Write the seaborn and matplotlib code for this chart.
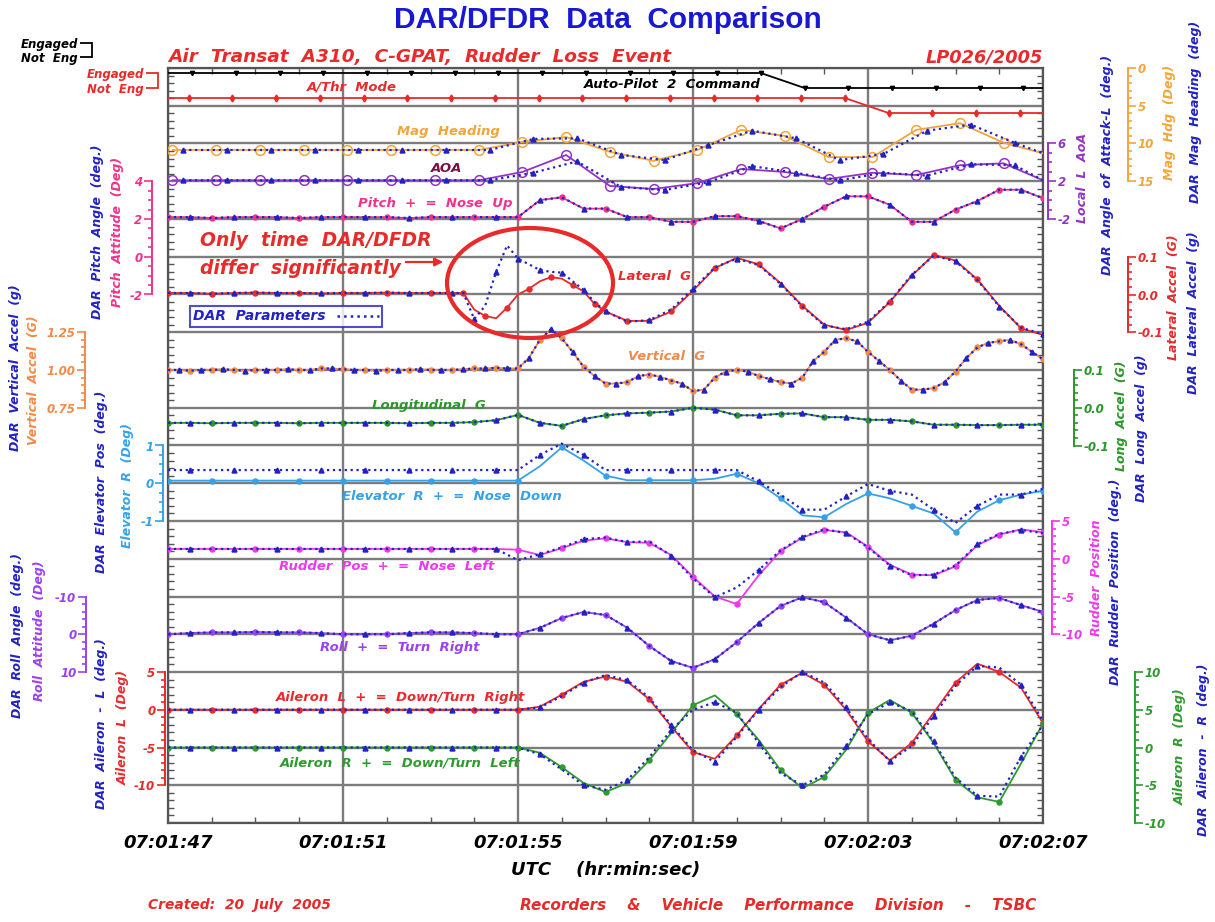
import numpy as np
import matplotlib
matplotlib.use("Agg")
import matplotlib.pyplot as plt
from matplotlib.ticker import FixedLocator, MultipleLocator
from matplotlib.patches import Ellipse
from matplotlib.lines import Line2D
import seaborn as sns

sns.set_theme(style="white")
plt.rcParams["font.family"] = ["DejaVu Sans"]
plt.rcParams["font.style"] = "italic"
plt.rcParams["font.weight"] = "bold"
plt.rcParams["axes.unicode_minus"] = False

# ---------------------------------------------------------------- data
TIME_LABELS = ["07:01:47", "07:01:51", "07:01:55", "07:01:59", "07:02:03", "07:02:07"]
TIME_TICKS = [0, 4, 8, 12, 16, 20]          # seconds after 07:01:47

t_half = np.arange(0, 20.01, 0.5)           # 2 Hz parameters
t_quarter = np.arange(0, 20.01, 0.25)       # vertical G
t_lat = np.concatenate([np.arange(0, 6.5, 0.5), np.arange(6.5, 10.0, 0.25),
                        np.arange(10.0, 20.01, 0.5)])
t_1hz = np.append(np.arange(0.1, 19.2, 1.0), 20.0)        # heading / AOA (DFDR)
t_1hz_dar = np.append(np.arange(0.35, 19.4, 1.0), 20.0)   # heading / AOA (DAR)

# auto-pilot / auto-thrust states (1 = Engaged, 0 = Not Eng)
t_ap = np.concatenate([[0], np.arange(0.55, 19.6, 1.0), [20]])
ap_state = [1] * 15 + [0] * 7
t_athr = np.concatenate([[0], np.arange(0.47, 19.5, 1.0), [20]])
athr_state = [1] * 17 + [0] * 5

hdg_dfdr = [10.86, 10.86, 10.86, 10.86, 10.86, 10.86, 10.86, 10.86,
            9.8, 9.14, 11.1, 12.3, 10.86, 8.2, 9.0, 11.8, 11.8, 8.2, 7.3, 9.9, 11.3]
hdg_dar = [10.86, 10.86, 10.86, 10.86, 10.86, 10.86, 10.86, 10.86,
           9.4, 9.3, 11.5, 12.2, 10.2, 8.3, 9.3, 12.2, 11.4, 8.3, 7.5, 9.9, 11.3]

aoa_dfdr = [2.1, 2.1, 2.1, 2.1, 2.1, 2.1, 2.1, 2.1,
            2.98, 4.78, 1.5, 1.18, 1.8, 3.3, 2.98, 2.24, 2.9, 2.66, 3.7, 3.9, 2.1]
aoa_dar = [2.1, 2.1, 2.1, 2.1, 2.1, 2.1, 2.1, 2.1,
           2.9, 4.1, 1.4, 1.06, 1.9, 3.6, 2.9, 2.1, 2.9, 2.6, 3.8, 3.7, 2.1]

pitch = [2.1, 2.1, 2.05, 2.1, 2.1, 2.1, 2.05, 2.1, 2.1, 2.1, 2.1, 2.05, 2.1, 2.1, 2.1, 2.1,
         2.1, 3.0, 3.15, 2.55, 2.55, 2.1, 2.1, 1.85, 1.85, 2.15, 2.15, 1.9, 1.5, 2.0,
         2.65, 3.2, 3.2, 2.75, 1.85, 1.85, 2.5, 2.95, 3.55, 3.55, 3.1]

lat_dfdr = [0.004, 0.004, 0.002, 0.004, 0.005, 0.004, 0.004, 0.003, 0.004, 0.004, 0.005, 0.004, 0.004,
            0.004, 0.004, -0.04, -0.057, -0.063, -0.035, 0.0, 0.015, 0.035, 0.046, 0.042, 0.025,
            0.008, -0.025,
            -0.045, -0.07, -0.07, -0.045, 0.01, 0.07, 0.097, 0.08, 0.03, -0.03, -0.08, -0.094,
            -0.075, -0.02, 0.05, 0.105, 0.09, 0.04, -0.03, -0.09, -0.107]
lat_dar = [0.004, 0.004, 0.002, 0.004, 0.005, 0.004, 0.004, 0.003, 0.004, 0.004, 0.005, 0.004, 0.004,
           0.004, 0.004, -0.065, -0.03, 0.06, 0.13, 0.095, 0.08, 0.065, 0.06, 0.058, 0.035,
           0.012, -0.02,
           -0.045, -0.072, -0.068, -0.04, 0.015, 0.072, 0.095, 0.078, 0.028, -0.032, -0.082, -0.092,
           -0.072, -0.018, 0.052, 0.103, 0.088, 0.038, -0.032, -0.088, -0.105]

vert_g = [1.0, 1.0, 0.995, 1.0, 1.0, 1.005, 1.0, 0.995, 1.0, 1.0, 1.0, 1.005, 1.0, 1.0, 1.01, 1.01,
          1.005, 1.0, 1.0, 0.995, 1.0, 1.0, 1.0, 1.005, 1.0, 1.0, 1.0, 1.005, 1.01, 1.01, 1.015, 1.01,
          1.01, 1.08, 1.2, 1.27, 1.21, 1.12, 1.02, 0.96, 0.91, 0.91, 0.92, 0.96, 0.97, 0.955,
          0.93, 0.91, 0.86, 0.87, 0.95, 0.99, 1.0, 0.99, 0.96, 0.94, 0.92, 0.91, 0.95, 1.06,
          1.12, 1.2, 1.21, 1.19, 1.12, 1.06, 1.0, 0.93, 0.87, 0.87, 0.88, 0.92, 0.99, 1.08,
          1.15, 1.18, 1.19, 1.2, 1.17, 1.12, 1.07]

long_g = [-0.04, -0.04, -0.041, -0.04, -0.04, -0.04, -0.041, -0.04, -0.04, -0.04, -0.04, -0.041,
          -0.04, -0.04, -0.038, -0.033,
          -0.019, -0.04, -0.048, -0.03, -0.02, -0.015, -0.013, -0.01, 0.0, -0.005, -0.02, -0.02,
          -0.016, -0.015, -0.025, -0.025, -0.032, -0.032, -0.036, -0.045, -0.045, -0.046, -0.046,
          -0.045, -0.045]

elev_dfdr = [0.07, 0.07, 0.07, 0.07, 0.07, 0.07, 0.07, 0.07, 0.07, 0.07, 0.07, 0.07, 0.07, 0.07, 0.07, 0.07,
             0.07, 0.45, 0.95, 0.6, 0.2, 0.08, 0.08, 0.08, 0.08, 0.12, 0.25, 0.0, -0.4, -0.85, -0.9,
             -0.55, -0.27, -0.4, -0.6, -0.8, -1.3, -0.75, -0.45, -0.3, -0.2]
elev_dar = [0.35, 0.35, 0.35, 0.35, 0.35, 0.35, 0.35, 0.35, 0.35, 0.35, 0.35, 0.35, 0.35, 0.35, 0.35, 0.35,
            0.35, 0.75, 1.05, 0.75, 0.35, 0.35, 0.35, 0.35, 0.35, 0.35, 0.35, 0.05, -0.3, -0.7, -0.7,
            -0.35, -0.02, -0.2, -0.3, -0.7, -1.05, -0.6, -0.3, -0.3, -0.15]

rud_dfdr = [1.3, 1.3, 1.3, 1.3, 1.3, 1.3, 1.3, 1.3, 1.3, 1.3, 1.3, 1.3, 1.3, 1.3, 1.3, 1.3,
            1.2, 0.5, 1.4, 2.4, 2.7, 2.2, 2.1, 0.5, -2.4, -5.0, -6.0, -2.2, 1.0, 2.8, 3.8,
            3.5, 1.6, -0.8, -2.1, -2.2, -1.0, 1.8, 3.2, 3.9, 3.5]
rud_dar = [1.3, 1.3, 1.3, 1.3, 1.3, 1.3, 1.3, 1.3, 1.3, 1.3, 1.3, 1.3, 1.3, 1.3, 1.3, 1.3,
           -0.2, 0.6, 1.5, 2.6, 2.8, 2.2, 2.3, 0.4, -2.6, -5.1, -3.8, -1.5, 1.1, 2.9, 3.9,
           3.4, 1.5, -0.9, -2.2, -2.1, -0.9, 1.9, 3.3, 3.8, 3.4]

roll = [0.0, -0.3, -0.5, -0.5, -0.6, -0.5, -0.5, -0.3, 0.0, 0.0, 0.0, -0.3, -0.5, -0.5, -0.3, 0.0,
        0.0, -1.7, -4.3, -5.9, -5.1, -1.7, 3.1, 7.1, 8.9, 6.6, 2.1, -3.0, -7.5, -9.8, -8.5,
        -4.4, 0.0, 1.6, 0.4, -2.8, -6.4, -9.1, -9.6, -7.7, -5.9]

ail_l_dfdr = [0.0, 0.0, 0.0, 0.0, 0.0, 0.0, 0.0, 0.0, 0.0, 0.0, 0.0, 0.0, 0.0, 0.0, 0.0, 0.0,
              0.0, 0.4, 2.0, 3.7, 4.4, 3.7, 1.4, -2.2, -5.6, -6.5, -3.4, 0.1, 3.3, 4.9, 3.3,
              0.0, -4.2, -6.7, -4.4, -0.4, 3.6, 6.1, 5.0, 2.9, -1.8]
ail_l_dar = [0.0, 0.0, 0.0, 0.0, 0.0, 0.0, 0.0, 0.0, 0.0, 0.0, 0.0, 0.0, 0.0, 0.0, 0.0, 0.0,
             0.0, 0.3, 1.8, 3.6, 4.6, 3.9, 1.6, -2.0, -5.4, -6.9, -3.6, 0.0, 3.0, 5.0, 3.6,
             0.3, -3.9, -6.8, -4.8, -0.8, 3.2, 5.8, 5.6, 3.3, -1.5]

ail_r_dfdr = [0.0, 0.0, 0.0, 0.0, 0.0, 0.0, 0.0, 0.0, 0.0, 0.0, 0.0, 0.0, 0.0, 0.0, 0.0, 0.0,
              0.0, -0.7, -2.6, -4.7, -5.9, -4.7, -1.7, 1.9, 5.6, 6.9, 4.4, 1.0, -3.0, -5.4, -3.9,
              -0.3, 4.6, 6.3, 4.6, 0.6, -4.3, -6.6, -7.2, -2.1, 3.2]
ail_r_dar = [0.0, 0.0, 0.0, 0.0, 0.0, 0.0, 0.0, 0.0, 0.0, 0.0, 0.0, 0.0, 0.0, 0.0, 0.0, 0.0,
             0.0, -0.9, -2.9, -5.0, -5.6, -4.3, -1.3, 2.3, 5.0, 6.0, 4.6, 0.6, -3.4, -5.0, -3.6,
             0.2, 4.4, 6.0, 4.8, 0.8, -4.0, -6.4, -6.5, -1.2, 3.0]

# ---------------------------------------------------------------- colours
DAR = "#2222c4"
RED = "#e82a2a"
HDG = "#f2a53a"
AOA = "#9434c4"
PITCH = "#f2328a"
VERT = "#f28a4a"
LONG = "#2a962a"
ELEV = "#35a2e8"
RUD = "#ee38ee"
ROLL = "#9a42f2"
GREEN = "#2f9a2f"

# ---------------------------------------------------------------- layout (pixels)
W, H, DPI = 1215, 922, 100
L, R, T, B = 168, 1043, 68, 823
RECT = [L / W, 1 - B / H, (R - L) / W, (B - T) / H]

fig = plt.figure(figsize=(W / DPI, H / DPI), dpi=DPI)
fig.patch.set_facecolor("white")


def ftext(x, y, s, color, size=9.5, rot=0, ha="center", **kw):
    fig.text(x / W, 1 - y / H, s, color=color, fontsize=size, rotation=rot,
             ha=ha, va="center", **kw)


# grid frame
base = fig.add_axes(RECT)
base.set_xlim(0, 20)
base.set_ylim(0, 20)
base.set_xticks(TIME_TICKS, TIME_LABELS)
base.xaxis.set_minor_locator(MultipleLocator(1))
base.yaxis.set_major_locator(MultipleLocator(1))
base.yaxis.set_minor_locator(MultipleLocator(0.2))
base.grid(True, which="major", color="#7c7c7c", lw=1.7)
base.tick_params(which="both", direction="in", bottom=True, top=True, left=True, right=True,
                 labelleft=False, color="#555555")
base.tick_params(which="major", length=0, pad=8, labelsize=13, labelcolor="black")
base.tick_params(which="minor", length=4, width=1)
for sp in base.spines.values():
    sp.set_color("#555555")
    sp.set_linewidth(1.6)


def track(v_a, y_a, v_b, y_b):
    """Transparent axes over the plot area whose y scale puts v_a at pixel y_a, v_b at y_b."""
    ax = fig.add_axes(RECT, facecolor="none")
    per_px = (v_b - v_a) / (y_b - y_a)
    ax.set_xlim(0, 20)
    ax.set_ylim(v_a + (B - y_a) * per_px, v_a + (T - y_a) * per_px)
    ax.xaxis.set_visible(False)
    for sp in ax.spines.values():
        sp.set_visible(False)
    ax.tick_params(axis="y", left=False, right=False, labelleft=False, labelright=False)
    return ax


def bracket(ax, side, x_px, ticks, labels, step, color):
    sp = ax.spines[side]
    sp.set_visible(True)
    sp.set_color(color)
    sp.set_linewidth(1.4)
    gap = (L - x_px) if side == "left" else (x_px - R)
    sp.set_position(("outward", gap * 72 / DPI))
    lo, hi = min(ticks), max(ticks)
    sp.set_bounds(lo, hi)
    ax.yaxis.set_ticks_position(side)
    ax.set_yticks(ticks, labels)
    ax.yaxis.set_minor_locator(FixedLocator(np.arange(lo, hi + 1e-9, step)))
    ax.tick_params(axis="y", which="both", direction="out", color=color, labelcolor=color,
                   labelsize=8.5, width=1.2, pad=1, **{side: True, "label" + side: True})
    ax.tick_params(axis="y", which="major", length=6)
    ax.tick_params(axis="y", which="minor", length=3.2)


def line(ax, t, v, color, ls="-", lw=1.3, mk="o", ms=3.5, open_mk=False, every=None, z=3):
    sns.lineplot(x=t, y=v, ax=ax, color=color, linestyle=ls, linewidth=lw, marker=mk,
                 markersize=ms, markerfacecolor="none" if open_mk else color,
                 markeredgecolor=color, markeredgewidth=1.1, markevery=every,
                 errorbar=None, legend=False, zorder=z)


def pair(ax, t, dfdr, dar, color, t_dar=None, ms=3.5, open_mk=False):
    if t_dar is None:
        line(ax, t, dfdr, color, ms=ms, every=(0, 2))
        line(ax, t, dar, DAR, ls=":", lw=1.6, mk="^", ms=3.5, every=(1, 2), z=4)
    else:
        line(ax, t, dfdr, color, ms=ms, open_mk=open_mk, every=list(range(len(t) - 1)))
        line(ax, t_dar, dar, DAR, ls=":", lw=1.6, mk="^", ms=3.5,
             every=list(range(len(t_dar) - 1)), z=4)


# ---------------------------------------------------------------- traces
ap_ax = track(1, 73, 0, 88)
line(ap_ax, t_ap, ap_state, "black", lw=1.3, mk="v", ms=3, every=list(range(1, 21)))

athr_ax = track(1, 98, 0, 113)
line(athr_ax, t_athr, athr_state, RED, lw=1.3, mk="d", ms=3.5, every=list(range(1, 21)))

hdg_ax = track(0, 68, 15, 181.25)
pair(hdg_ax, t_1hz, hdg_dfdr, hdg_dar, HDG, t_dar=t_1hz_dar, ms=7, open_mk=True)
bracket(hdg_ax, "right", 1128, [0, 5, 10, 15], ["0", "5", "10", "15"], 1, HDG)

aoa_ax = track(6, 143.5, -2, 219)
pair(aoa_ax, t_1hz, aoa_dfdr, aoa_dar, AOA, t_dar=t_1hz_dar, ms=7, open_mk=True)
bracket(aoa_ax, "right", 1048, [6, 2, -2], ["6", "2", "-2"], 1, AOA)

pitch_ax = track(4, 181.25, -2, 294.5)
pair(pitch_ax, t_half, pitch, pitch, PITCH)
bracket(pitch_ax, "left", 152, [4, 2, 0, -2], ["4", "2", "0", "-2"], 0.5, PITCH)

lat_ax = track(0.1, 256.75, -0.1, 332.25)
pair(lat_ax, t_lat, lat_dfdr, lat_dar, RED)
bracket(lat_ax, "right", 1128, [0.1, 0.0, -0.1], ["0.1", "0.0", "-0.1"], 0.02, RED)

vert_ax = track(1.25, 332.25, 0.75, 407.75)
pair(vert_ax, t_quarter, vert_g, vert_g, VERT)
bracket(vert_ax, "left", 85, [1.25, 1.0, 0.75], ["1.25", "1.00", "0.75"], 0.05, VERT)

long_ax = track(0.1, 370, -0.1, 445.5)
pair(long_ax, t_half, long_g, long_g, LONG)
bracket(long_ax, "right", 1074, [0.1, 0.0, -0.1], ["0.1", "0.0", "-0.1"], 0.02, LONG)

elev_ax = track(1, 445.5, -1, 521)
pair(elev_ax, t_half, elev_dfdr, elev_dar, ELEV)
bracket(elev_ax, "left", 163, [1, 0, -1], ["1", "0", "-1"], 0.25, ELEV)

rud_ax = track(5, 521, -10, 634.25)
pair(rud_ax, t_half, rud_dfdr, rud_dar, RUD)
bracket(rud_ax, "right", 1052, [5, 0, -5, -10], ["5", "0", "-5", "-10"], 1, RUD)

roll_ax = track(-10, 596.5, 10, 672)
pair(roll_ax, t_half, roll, roll, ROLL)
bracket(roll_ax, "left", 86, [-10, 0, 10], ["-10", "0", "10"], 2, ROLL)

ail_l_ax = track(5, 672, -10, 785.25)
pair(ail_l_ax, t_half, ail_l_dfdr, ail_l_dar, RED)
bracket(ail_l_ax, "left", 165, [5, 0, -5, -10], ["5", "0", "-5", "-10"], 1, RED)

ail_r_ax = track(10, 672, -10, 823)
pair(ail_r_ax, t_half, ail_r_dfdr, ail_r_dar, GREEN)
bracket(ail_r_ax, "right", 1135, [10, 5, 0, -5, -10], ["10", "5", "0", "-5", "-10"], 1, GREEN)


# Engaged / Not Eng keys for the two mode traces
def state_key(x_px, y_top, y_bot, color):
    ax = fig.add_axes([x_px / W, 1 - y_bot / H, 0.002, (y_bot - y_top) / H], facecolor="none")
    ax.set_ylim(0, 1)
    ax.set_xticks([])
    for name, sp in ax.spines.items():
        sp.set_visible(name == "left")
    ax.spines["left"].set_color(color)
    ax.spines["left"].set_linewidth(1.3)
    ax.set_yticks([0, 1], ["Not  Eng", "Engaged"])
    ax.tick_params(axis="y", direction="out", length=9, width=1.3, color=color,
                   labelcolor=color, labelsize=8.5, pad=1, left=True, labelleft=True)


state_key(92, 43, 57, "black")
state_key(158, 73, 88, RED)

# ---------------------------------------------------------------- texts
ftext(608, 20, "DAR/DFDR  Data  Comparison", "#1818d2", size=21.5, fontstyle="normal",
      family=["Liberation Sans", "DejaVu Sans"])
ftext(168, 57, "Air  Transat  A310,  C-GPAT,  Rudder  Loss  Event", RED, size=13.3, ha="left")
ftext(1043, 57, "LP026/2005", RED, size=12.8, ha="right")
ftext(606, 870, "UTC    (hr:min:sec)", "black", size=13)
ftext(148, 905, "Created:  20  July  2005", RED, size=10, ha="left")
ftext(520, 905, "Recorders    &    Vehicle    Performance    Division    -    TSBC", RED,
      size=11, ha="left")

for s, x, y, c in [
    ("A/Thr  Mode", 352, 87, RED),
    ("Auto-Pilot  2  Command", 672, 84, "black"),
    ("Mag  Heading", 448, 131, HDG),
    ("AOA", 447, 168, "#7a1040"),
    ("Pitch  +  =  Nose  Up", 435, 203, PITCH),
    ("Lateral  G", 655, 277, RED),
    ("Vertical  G", 667, 357, VERT),
    ("Longitudinal  G", 429, 405, LONG),
    ("Elevator  R  +  =  Nose  Down", 452, 496, ELEV),
    ("Rudder  Pos  +  =  Nose  Left", 387, 567, RUD),
    ("Roll  +  =  Turn  Right", 400, 647, ROLL),
    ("Aileron  L  +  =  Down/Turn  Right", 401, 697, RED),
    ("Aileron  R  +  =  Down/Turn  Left", 400, 763, GREEN),
]:
    ftext(x, y, s, c, size=9.5)

for s, x, y, c in [
    ("DAR  Pitch  Angle  (deg.)", 97, 232, DAR),
    ("Pitch  Attitude  (Deg)", 118, 232, PITCH),
    ("DAR  Vertical  Accel  (g)", 16, 368, DAR),
    ("Vertical  Accel  (G)", 34, 380, VERT),
    ("DAR  Elevator  Pos  (deg.)", 102, 482, DAR),
    ("Elevator  R  (Deg)", 127, 485, ELEV),
    ("DAR  Roll  Angle  (deg.)", 18, 635, DAR),
    ("Roll  Attitude  (Deg)", 40, 631, ROLL),
    ("DAR  Aileron  -  L  (deg.)", 102, 724, DAR),
    ("Aileron  L  (Deg)", 123, 727, RED),
    ("Local  L  AoA", 1083, 178, AOA),
    ("DAR  Angle  of  Attack-L  (deg.)", 1107, 165, DAR),
    ("Mag  Hdg  (Deg)", 1170, 122, HDG),
    ("DAR  Mag  Heading  (deg)", 1195, 112, DAR),
    ("Lateral  Accel  (G)", 1173, 297, RED),
    ("DAR  Lateral  Accel  (g)", 1194, 313, DAR),
    ("Long  Accel  (G)", 1122, 416, LONG),
    ("DAR  Long  Accel  (g)", 1142, 428, DAR),
    ("Rudder  Position", 1097, 578, RUD),
    ("DAR  Rudder  Position  (deg.)", 1116, 582, DAR),
    ("Aileron  R  (Deg)", 1180, 747, GREEN),
    ("DAR  Aileron  -  R  (deg.)", 1204, 750, DAR),
]:
    ftext(x, y, s, c, size=9, rot=90)

# call-out for the lateral G discrepancy
ftext(200, 240, "Only  time  DAR/DFDR", RED, size=13.5, ha="left")
ftext(200, 268, "differ  significantly", RED, size=13.5, ha="left")
fig.add_artist(Ellipse((530 / DPI, (H - 283) / DPI), 166 / DPI, 110 / DPI,
                       transform=fig.dpi_scale_trans, fill=False, ec=RED, lw=3, zorder=10))
base.annotate("", xy=(446, H - 262), xytext=(403, H - 262), xycoords="figure pixels",
              textcoords="figure pixels",
              arrowprops=dict(arrowstyle="-|>", color=RED, lw=1.6, mutation_scale=12))

leg = base.legend(handles=[Line2D([], [], color=DAR, ls=":", lw=1.8)], labels=["DAR  Parameters"],
                  loc="upper left", bbox_to_anchor=(190 / W, 1 - 306 / H),
                  bbox_transform=fig.transFigure, markerfirst=False, frameon=True,
                  fancybox=False, edgecolor=DAR, handlelength=3.0, fontsize=10,
                  borderpad=0.25, handletextpad=0.8, borderaxespad=0)
leg.get_frame().set_linewidth(1.5)
for txt in leg.get_texts():
    txt.set_color(DAR)

fig.savefig("out.png", dpi=DPI)
plt.close(fig)
